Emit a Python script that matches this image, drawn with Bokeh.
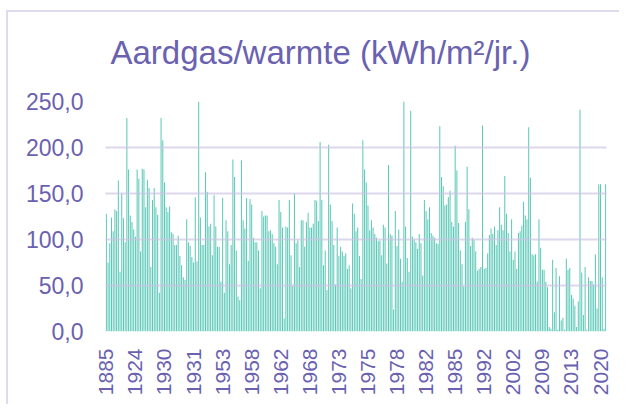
import math
from bokeh.plotting import figure
from bokeh.models import Range1d, FixedTicker
from bokeh.embed import file_html
from bokeh.resources import INLINE

# Tick labels (every 17th building, sorted by construction year)
years = ["1885", "1924", "1930", "1931", "1953", "1958", "1962", "1968", "1973",
         "1975", "1978", "1982", "1985", "1992", "2002", "2009", "2013", "2020"]
label_step = 17

# kWh/m2/yr per building, read left to right
seg1 = [128, 75, 96, 124, 109, 133, 131, 164, 65, 150, 123, 97, 232, 176, 126, 119, 111, 103,
        176, 166, 87, 177, 176, 135, 165, 156, 70, 143, 156, 135, 127, 42, 232, 208, 162, 135,
        130, 136]
seg2 = [108, 106, 94, 94, 104, 82, 72, 59, 56, 122, 97, 93, 81, 75, 146, 76, 250, 124, 94, 94,
        173, 152, 114, 117, 83, 148, 114, 92, 92, 54, 145, 42, 121, 109, 73, 94, 187, 168, 88,
        38, 34]
seg3 = [186, 121, 112, 145, 77, 144, 138, 102, 97, 97, 88, 47, 131, 125, 126, 126, 109, 110,
        106, 96, 92, 73, 143, 130, 113, 14, 114, 113, 143, 83, 50, 150, 96, 99, 70, 121, 121,
        92, 119, 129, 113]
seg4 = [113, 117, 143, 142, 120, 206, 143, 72, 88, 45, 203, 138, 120, 94, 51, 113, 82, 92, 87,
        82, 85, 68, 72, 47, 139, 128, 109, 113, 82, 57, 208, 176, 162, 137, 110, 121, 113, 106,
        102, 98, 99]
seg5 = [83, 116, 113, 74, 181, 106, 104, 24, 131, 93, 111, 79, 54, 250, 114, 80, 65, 240, 103,
        100, 97, 90, 106, 96, 61, 143, 131, 122, 135, 107, 104, 102, 96, 95, 223, 168, 158, 137,
        138, 146, 153]
seg6 = [119, 114, 202, 175, 118, 88, 73, 49, 119, 179, 133, 93, 102, 100, 87, 66, 68, 70, 224,
        68, 69, 85, 105, 112, 106, 114, 94, 110, 135, 116, 110, 169, 128, 107, 87, 122, 78, 87,
        68, 107, 109]
seg7 = [115, 141, 126, 122, 222, 167, 84, 83, 84, 54, 122, 91, 67, 67, 54, 48, 5, 3, 78, 21,
        69, 2, 60, 12, 15, 2, 79, 67, 69, 40, 36, 28, 5, 33, 241, 64, 18, 70, 2, 59,
        55, 55, 51, 84, 25, 160, 160, 59, 3, 160]

values = seg1 + seg2 + seg3 + seg4 + seg5 + seg6 + seg7
n = len(values)
xs = list(range(n))

y_ticks = [0, 50, 100, 150, 200, 250]
y_labels = ["0,0", "50,0", "100,0", "150,0", "200,0", "250,0"]

TXT = "#6a61b0"
FONT = "Liberation Sans"

p = figure(width=619, height=404, output_backend="svg", toolbar_location=None,
           x_range=Range1d(-0.5, n - 0.5), y_range=Range1d(0, 250),
           min_border_left=105, min_border_right=13, min_border_top=99, min_border_bottom=73)
p.border_fill_color = None
p.styles = {"box-shadow": "inset 6px 10px 0 0 #ffffff, inset 8px 12px 0 0 #dedbef",
            "background": "#ffffff"}

p.vbar(x=xs, top=values, width=0.6, fill_color="#5cc8b8", line_color=None)

p.title.text = "Aardgas/warmte  (kWh/m²/jr.)"
p.title.text_font = FONT
p.title.text_font_size = "33px"
p.title.text_font_style = "normal"
p.title.text_color = TXT
p.title.align = "left"
p.title.offset = 5
p.title.standoff = 62

p.outline_line_color = None
p.xgrid.visible = False
p.ygrid.ticker = FixedTicker(ticks=y_ticks)
p.ygrid.grid_line_color = "#c9c3e2"
p.ygrid.grid_line_alpha = 0.65
p.ygrid.grid_line_width = 2
p.ygrid.level = "overlay"

p.yaxis.ticker = FixedTicker(ticks=y_ticks)
p.yaxis.major_label_overrides = {t: l for t, l in zip(y_ticks, y_labels)}
p.yaxis.axis_line_color = None
p.yaxis.major_tick_line_color = None
p.yaxis.minor_tick_line_color = None
p.yaxis.major_tick_out = 0
p.yaxis.major_label_standoff = 22
p.yaxis.major_label_text_font = FONT
p.yaxis.major_label_text_font_size = "23px"
p.yaxis.major_label_text_color = TXT

x_ticks = [i * label_step for i in range(len(years))]
p.xaxis.ticker = FixedTicker(ticks=x_ticks)
p.xaxis.major_label_overrides = {t: y for t, y in zip(x_ticks, years)}
p.xaxis.major_label_orientation = math.pi / 2
p.xaxis.axis_line_color = None
p.xaxis.major_tick_line_color = None
p.xaxis.minor_tick_line_color = None
p.xaxis.major_tick_out = 0
p.xaxis.major_label_standoff = 17
p.xaxis.major_label_text_font = FONT
p.xaxis.major_label_text_font_size = "21px"
p.xaxis.major_label_text_color = TXT

open("out.html", "w").write(file_html(p, INLINE))
